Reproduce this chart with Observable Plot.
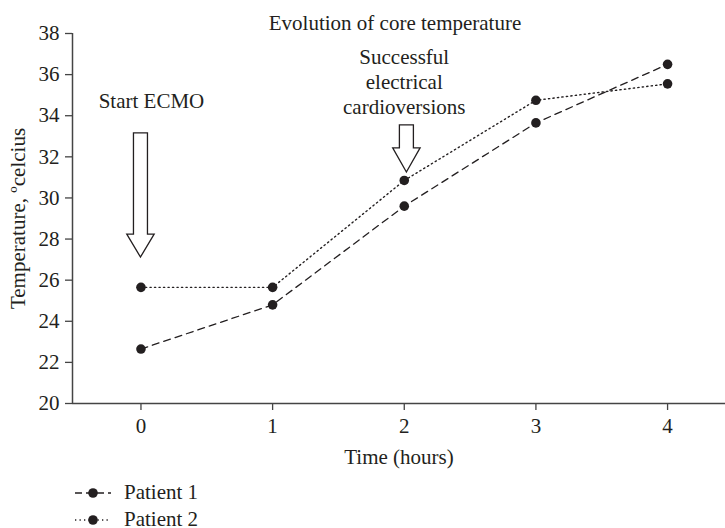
<!DOCTYPE html>
<html>
<head>
<meta charset="utf-8">
<script src="https://cdn.jsdelivr.net/npm/d3@7"></script>
<script src="https://cdn.jsdelivr.net/npm/@observablehq/plot@0.6"></script>
<style>
  body { margin: 0; background: #fff; font-family: "Liberation Serif", "DejaVu Serif", serif; }
  #wrap { position: relative; width: 725px; height: 528px; overflow: hidden; }
  #chart svg { display: block; }
  .leg { position: absolute; left: 73px; height: 27px; line-height: 27px; font-size: 21px; color: #231f20; white-space: nowrap; }
  .leg svg { position: absolute; left: 0; top: 0; }
  .leg span { position: absolute; left: 51px; top: 0; }
</style>
</head>
<body>
<div id="wrap">
  <div id="chart"></div>
</div>
<script>
// ---- data ----
const hours = [0, 1, 2, 3, 4];
const patient1 = [22.65, 24.8, 29.6, 33.65, 36.5];
const patient2 = [25.65, 25.65, 30.85, 34.75, 35.55];
const seriesNames = ["Patient 1", "Patient 2"];
const xTicks = [0, 1, 2, 3, 4];
const yTicks = [20, 22, 24, 26, 28, 30, 32, 34, 36, 38];
const titleText = "Evolution of core temperature";
const xLabel = "Time (hours)";
const yLabel = "Temperature, ºcelcius";
// annotations (data coordinates)
const noteText = ["Start ECMO", "Successful\nelectrical\ncardioversions"];
const noteX = [0.08, 2.0];
const noteY = [34.74, 35.68];
const arrowX = [0, 2.02];
const arrowTop = [33.14, 33.53];
const arrowHeadBase = [28.22, 32.41];
const arrowTip = [27.1, 31.24];

// ---- tables built from arrays ----
const rows1 = hours.map((h, i) => ({hour: h, temp: patient1[i], series: seriesNames[0]}));
const rows2 = hours.map((h, i) => ({hour: h, temp: patient2[i], series: seriesNames[1]}));
const notes = noteText.map((t, i) => ({text: t, x: noteX[i], y: noteY[i]}));
const arrows = arrowX.map((x, i) => ({x, top: arrowTop[i], base: arrowHeadBase[i], tip: arrowTip[i]}));

const ink = "#231f20";
const axisInk = "#444";
const xDomain = [-0.52, 4.44];
const fs = 21;

function arrowMark(index, scales) {
  const g = d3.create("svg:g");
  const sw = 7, hw = 13.7;
  for (const a of arrows) {
    const cx = scales.x(a.x), yt = scales.y(a.top), yb = scales.y(a.base), yp = scales.y(a.tip);
    g.append("path")
      .attr("d", `M${cx - sw},${yt}H${cx + sw}V${yb}H${cx + hw}L${cx},${yp}L${cx - hw},${yb}H${cx - sw}Z`)
      .attr("fill", "white")
      .attr("stroke", ink)
      .attr("stroke-width", 1.3)
      .attr("stroke-linejoin", "miter");
  }
  return g.node();
}

const plot = Plot.plot({
  width: 725,
  height: 470,
  marginLeft: 72,
  marginRight: 0,
  marginTop: 33,
  marginBottom: 67,
  style: {fontFamily: "Liberation Serif, DejaVu Serif, serif", fontSize: fs + "px", color: ink, background: "white"},
  x: {domain: xDomain, ticks: xTicks},
  y: {domain: [20, 38], ticks: yTicks},
  marks: [
    Plot.axisX({ticks: xTicks, tickSize: 7, tickPadding: 8, tickFormat: d => String(d), label: null, stroke: axisInk, strokeWidth: 1.3, fill: ink, fontSize: fs}),
    Plot.axisY({ticks: yTicks, tickSize: 7, tickPadding: 6, tickFormat: d => String(d), label: null, stroke: axisInk, strokeWidth: 1.3, fill: ink, fontSize: fs}),
    Plot.ruleY([20], {stroke: axisInk, strokeWidth: 1.5}),
    Plot.ruleX([xDomain[0]], {stroke: axisInk, strokeWidth: 1.5}),
    Plot.line(rows1, {x: "hour", y: "temp", stroke: ink, strokeWidth: 1.3, strokeDasharray: "7,5"}),
    Plot.line(rows2, {x: "hour", y: "temp", stroke: ink, strokeWidth: 1.4, strokeDasharray: "1.3,3.2"}),
    Plot.dot(rows1, {x: "hour", y: "temp", r: 4.8, fill: ink, stroke: "none"}),
    Plot.dot(rows2, {x: "hour", y: "temp", r: 4.8, fill: ink, stroke: "none"}),
    arrowMark,
    Plot.text(notes, {x: "x", y: "y", text: "text", lineHeight: 1.17, lineAnchor: "middle", fill: ink, fontSize: fs}),
    Plot.text([titleText], {frameAnchor: "top", dy: -10.5, dx: -4, lineAnchor: "middle", fill: ink, fontSize: fs}),
    Plot.text([xLabel], {frameAnchor: "bottom", dy: 54, lineAnchor: "middle", fill: ink, fontSize: fs}),
    Plot.text([yLabel], {frameAnchor: "left", dx: -54, rotate: -90, textAnchor: "middle", lineAnchor: "middle", fill: ink, fontSize: fs})
  ]
});
document.getElementById("chart").appendChild(plot);

// ---- legend ----
const wrap = document.getElementById("wrap");
const legendDash = ["7,4", "1.3,3.2"];
const legendTop = [479, 506];
seriesNames.forEach((name, i) => {
  const row = document.createElement("div");
  row.className = "leg";
  row.style.top = legendTop[i] + "px";
  row.innerHTML =
    `<svg width="44" height="27"><line x1="2" x2="38" y1="14" y2="14" stroke="${ink}" stroke-width="1.4" stroke-dasharray="${legendDash[i]}"/>` +
    `<circle cx="20" cy="14" r="4.8" fill="${ink}"/></svg><span>${name}</span>`;
  wrap.appendChild(row);
});
</script>
</body>
</html>
